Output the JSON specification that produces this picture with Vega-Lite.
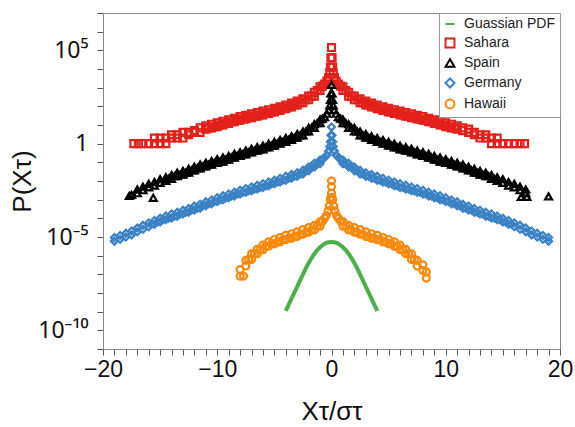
{
"$schema": "https://vega.github.io/schema/vega-lite/v6.json",
"width": 457, "height": 336,
"autosize": {"type": "none"},
"padding": {"left": 103, "top": 13, "right": 15, "bottom": 78},
"background": "white",
"config": {
 "font": "Liberation Sans",
 "view": {"stroke": "#8a8a8a", "strokeWidth": 1},
 "axis": {"domainColor": "#8a8a8a", "ticks": true, "tickColor": "#555", "tickWidth": 1, "tickOpacity": 1, "grid": false, "labelColor": "#111", "titleColor": "#111", "labelFontSize": 23, "titleFontSize": 26, "titleFontWeight": "normal", "tickSize": 6, "labelFont": "Liberation Sans", "titleFont": "Liberation Sans", "labelFlush": false},
 "legend": {"labelFont": "Liberation Sans", "labelFontSize": 14, "labelColor": "#222", "symbolStrokeWidth": 2, "symbolSize": 80, "rowPadding": 3, "padding": 4, "strokeColor": "#999", "fillColor": "white", "labelOffset": 7}
},
"data": {"values": [
{"s":"Guassian PDF","x":-4,"p":1.1e-9},{"s":"Guassian PDF","x":-3.5,"p":5e-9},{"s":"Guassian PDF","x":-3,"p":2.2e-8},{"s":"Guassian PDF","x":-2.5,"p":1e-7},{"s":"Guassian PDF","x":-2,"p":4e-7},{"s":"Guassian PDF","x":-1.5,"p":1.26e-6},{"s":"Guassian PDF","x":-1,"p":2.8e-6},{"s":"Guassian PDF","x":-0.5,"p":4.7e-6},{"s":"Guassian PDF","x":0,"p":5.4e-6},{"s":"Guassian PDF","x":0.5,"p":4.7e-6},{"s":"Guassian PDF","x":1,"p":2.8e-6},{"s":"Guassian PDF","x":1.5,"p":1.26e-6},{"s":"Guassian PDF","x":2,"p":4e-7},{"s":"Guassian PDF","x":2.5,"p":1e-7},{"s":"Guassian PDF","x":3,"p":2.2e-8},{"s":"Guassian PDF","x":3.5,"p":5e-9},{"s":"Guassian PDF","x":4,"p":1.1e-9},

{"s":"Sahara","x":-17.3,"p":1},{"s":"Sahara","x":-16.9,"p":1},{"s":"Sahara","x":-16.5,"p":1},{"s":"Sahara","x":-16,"p":1},{"s":"Sahara","x":-15.5,"p":1},{"s":"Sahara","x":-15.5,"p":2},{"s":"Sahara","x":-15,"p":1},{"s":"Sahara","x":-15,"p":2},{"s":"Sahara","x":-14.5,"p":1},{"s":"Sahara","x":-14.5,"p":2},{"s":"Sahara","x":-14,"p":2},{"s":"Sahara","x":-14,"p":3},{"s":"Sahara","x":-13.5,"p":2},{"s":"Sahara","x":-13.5,"p":3},{"s":"Sahara","x":-13,"p":2},{"s":"Sahara","x":-13,"p":4},{"s":"Sahara","x":-12.5,"p":3},{"s":"Sahara","x":-12.5,"p":4},{"s":"Sahara","x":-12,"p":4},{"s":"Sahara","x":-12,"p":5},{"s":"Sahara","x":-11.5,"p":4},{"s":"Sahara","x":-11.5,"p":7},{"s":"Sahara","x":-11,"p":6},{"s":"Sahara","x":-11,"p":9},{"s":"Sahara","x":-10.5,"p":7},{"s":"Sahara","x":-10.5,"p":11},{"s":"Sahara","x":-10,"p":8},{"s":"Sahara","x":-10,"p":13},{"s":"Sahara","x":-9.5,"p":10},{"s":"Sahara","x":-9.5,"p":16},{"s":"Sahara","x":-9,"p":12},{"s":"Sahara","x":-9,"p":19},{"s":"Sahara","x":-8.5,"p":15},{"s":"Sahara","x":-8.5,"p":23},{"s":"Sahara","x":-8,"p":18},{"s":"Sahara","x":-8,"p":28},{"s":"Sahara","x":-7.5,"p":21},{"s":"Sahara","x":-7.5,"p":33},{"s":"Sahara","x":-7,"p":25},{"s":"Sahara","x":-7,"p":40},{"s":"Sahara","x":-6.5,"p":30},{"s":"Sahara","x":-6.5,"p":47},{"s":"Sahara","x":-6,"p":35},{"s":"Sahara","x":-6,"p":56},{"s":"Sahara","x":-5.5,"p":42},{"s":"Sahara","x":-5.5,"p":66},{"s":"Sahara","x":-5,"p":50},{"s":"Sahara","x":-5,"p":79},{"s":"Sahara","x":-4.5,"p":60},{"s":"Sahara","x":-4.5,"p":95},{"s":"Sahara","x":-4,"p":74},{"s":"Sahara","x":-4,"p":117},{"s":"Sahara","x":-3.5,"p":93},{"s":"Sahara","x":-3.5,"p":148},{"s":"Sahara","x":-3,"p":120},{"s":"Sahara","x":-3,"p":191},{"s":"Sahara","x":-2.5,"p":158},{"s":"Sahara","x":-2.5,"p":251},{"s":"Sahara","x":-2,"p":224},{"s":"Sahara","x":-2,"p":355},{"s":"Sahara","x":-1.5,"p":355},{"s":"Sahara","x":-1.5,"p":560},{"s":"Sahara","x":-1,"p":710},{"s":"Sahara","x":-1,"p":1120},{"s":"Sahara","x":-0.8,"p":1200},{"s":"Sahara","x":-0.6,"p":1580},{"s":"Sahara","x":-0.4,"p":2240},{"s":"Sahara","x":-0.25,"p":3500},{"s":"Sahara","x":-0.15,"p":6300},{"s":"Sahara","x":-0.1,"p":12600},{"s":"Sahara","x":-0.05,"p":40000},{"s":"Sahara","x":0,"p":141000},{"s":"Sahara","x":0.05,"p":40000},{"s":"Sahara","x":0.1,"p":12600},{"s":"Sahara","x":0.15,"p":6300},{"s":"Sahara","x":0.25,"p":3500},{"s":"Sahara","x":0.4,"p":2240},{"s":"Sahara","x":0.6,"p":1580},{"s":"Sahara","x":0.8,"p":1200},{"s":"Sahara","x":1,"p":1120},{"s":"Sahara","x":1,"p":710},{"s":"Sahara","x":1.5,"p":560},{"s":"Sahara","x":1.5,"p":355},{"s":"Sahara","x":2,"p":355},{"s":"Sahara","x":2,"p":224},{"s":"Sahara","x":2.5,"p":251},{"s":"Sahara","x":2.5,"p":158},{"s":"Sahara","x":3,"p":191},{"s":"Sahara","x":3,"p":120},{"s":"Sahara","x":3.5,"p":148},{"s":"Sahara","x":3.5,"p":93},{"s":"Sahara","x":4,"p":117},{"s":"Sahara","x":4,"p":74},{"s":"Sahara","x":4.5,"p":95},{"s":"Sahara","x":4.5,"p":60},{"s":"Sahara","x":5,"p":79},{"s":"Sahara","x":5,"p":50},{"s":"Sahara","x":5.5,"p":66},{"s":"Sahara","x":5.5,"p":42},{"s":"Sahara","x":6,"p":56},{"s":"Sahara","x":6,"p":35},{"s":"Sahara","x":6.5,"p":47},{"s":"Sahara","x":6.5,"p":30},{"s":"Sahara","x":7,"p":40},{"s":"Sahara","x":7,"p":25},{"s":"Sahara","x":7.5,"p":33},{"s":"Sahara","x":7.5,"p":21},{"s":"Sahara","x":8,"p":28},{"s":"Sahara","x":8,"p":18},{"s":"Sahara","x":8.5,"p":23},{"s":"Sahara","x":8.5,"p":15},{"s":"Sahara","x":9,"p":19},{"s":"Sahara","x":9,"p":12},{"s":"Sahara","x":9.5,"p":16},{"s":"Sahara","x":9.5,"p":10},{"s":"Sahara","x":10,"p":13},{"s":"Sahara","x":10,"p":8},{"s":"Sahara","x":10.5,"p":11},{"s":"Sahara","x":10.5,"p":7},{"s":"Sahara","x":11,"p":9},{"s":"Sahara","x":11,"p":6},{"s":"Sahara","x":11.5,"p":7},{"s":"Sahara","x":11.5,"p":5},{"s":"Sahara","x":12,"p":6},{"s":"Sahara","x":12,"p":4},{"s":"Sahara","x":12.5,"p":4},{"s":"Sahara","x":12.5,"p":3},{"s":"Sahara","x":13,"p":3},{"s":"Sahara","x":13,"p":2},{"s":"Sahara","x":13.5,"p":3},{"s":"Sahara","x":13.5,"p":2},{"s":"Sahara","x":14,"p":2},{"s":"Sahara","x":14,"p":1},{"s":"Sahara","x":14.5,"p":2},{"s":"Sahara","x":14.5,"p":1},{"s":"Sahara","x":15,"p":1},{"s":"Sahara","x":15.5,"p":1},{"s":"Sahara","x":16,"p":1},{"s":"Sahara","x":16.5,"p":1},{"s":"Sahara","x":16.9,"p":1},
{"s":"Sahara","x":-1.25,"p":710},{"s":"Sahara","x":-1.75,"p":355},{"s":"Sahara","x":-2.25,"p":224},{"s":"Sahara","x":-2.75,"p":158},{"s":"Sahara","x":-3.25,"p":120},{"s":"Sahara","x":-3.75,"p":93},{"s":"Sahara","x":-4.25,"p":74},{"s":"Sahara","x":-4.75,"p":60},{"s":"Sahara","x":-5.25,"p":50},{"s":"Sahara","x":-5.75,"p":42},{"s":"Sahara","x":-6.25,"p":35},{"s":"Sahara","x":-6.75,"p":30},{"s":"Sahara","x":-7.25,"p":25},{"s":"Sahara","x":-7.75,"p":21},{"s":"Sahara","x":-8.25,"p":18},{"s":"Sahara","x":-8.75,"p":15},{"s":"Sahara","x":-9.25,"p":12},{"s":"Sahara","x":-9.75,"p":10},{"s":"Sahara","x":-10.25,"p":8},{"s":"Sahara","x":-10.75,"p":7},
{"s":"Sahara","x":1.25,"p":710},{"s":"Sahara","x":1.75,"p":355},{"s":"Sahara","x":2.25,"p":224},{"s":"Sahara","x":2.75,"p":158},{"s":"Sahara","x":3.25,"p":120},{"s":"Sahara","x":3.75,"p":93},{"s":"Sahara","x":4.25,"p":74},{"s":"Sahara","x":4.75,"p":60},{"s":"Sahara","x":5.25,"p":50},{"s":"Sahara","x":5.75,"p":42},{"s":"Sahara","x":6.25,"p":35},{"s":"Sahara","x":6.75,"p":30},{"s":"Sahara","x":7.25,"p":25},{"s":"Sahara","x":7.75,"p":21},{"s":"Sahara","x":8.25,"p":18},{"s":"Sahara","x":8.75,"p":15},{"s":"Sahara","x":9.25,"p":12},{"s":"Sahara","x":9.75,"p":10},{"s":"Sahara","x":10.25,"p":8},{"s":"Sahara","x":10.75,"p":7},

{"s":"Spain","x":-17.7,"p":0.0016},{"s":"Spain","x":-17.5,"p":0.0018},{"s":"Spain","x":-17,"p":0.0022},{"s":"Spain","x":-17,"p":0.0035},{"s":"Spain","x":-16.5,"p":0.0032},{"s":"Spain","x":-16.5,"p":0.005},{"s":"Spain","x":-16,"p":0.0045},{"s":"Spain","x":-16,"p":0.0071},{"s":"Spain","x":-15.6,"p":0.00126},{"s":"Spain","x":-15.5,"p":0.0056},{"s":"Spain","x":-15.5,"p":0.0089},{"s":"Spain","x":-15,"p":0.0079},{"s":"Spain","x":-15,"p":0.0126},{"s":"Spain","x":-14.5,"p":0.01},{"s":"Spain","x":-14.5,"p":0.016},{"s":"Spain","x":-14,"p":0.013},{"s":"Spain","x":-14,"p":0.021},{"s":"Spain","x":-13.5,"p":0.018},{"s":"Spain","x":-13.5,"p":0.028},{"s":"Spain","x":-13,"p":0.022},{"s":"Spain","x":-13,"p":0.035},{"s":"Spain","x":-12.5,"p":0.028},{"s":"Spain","x":-12.5,"p":0.045},{"s":"Spain","x":-12,"p":0.037},{"s":"Spain","x":-12,"p":0.059},{"s":"Spain","x":-11.5,"p":0.048},{"s":"Spain","x":-11.5,"p":0.076},{"s":"Spain","x":-11,"p":0.06},{"s":"Spain","x":-11,"p":0.095},{"s":"Spain","x":-10.5,"p":0.074},{"s":"Spain","x":-10.5,"p":0.117},{"s":"Spain","x":-10,"p":0.093},{"s":"Spain","x":-10,"p":0.148},{"s":"Spain","x":-9.5,"p":0.11},{"s":"Spain","x":-9.5,"p":0.18},{"s":"Spain","x":-9,"p":0.14},{"s":"Spain","x":-9,"p":0.22},{"s":"Spain","x":-8.5,"p":0.18},{"s":"Spain","x":-8.5,"p":0.29},{"s":"Spain","x":-8,"p":0.22},{"s":"Spain","x":-8,"p":0.35},{"s":"Spain","x":-7.5,"p":0.27},{"s":"Spain","x":-7.5,"p":0.43},{"s":"Spain","x":-7,"p":0.34},{"s":"Spain","x":-7,"p":0.54},{"s":"Spain","x":-6.5,"p":0.42},{"s":"Spain","x":-6.5,"p":0.66},{"s":"Spain","x":-6,"p":0.5},{"s":"Spain","x":-6,"p":0.79},{"s":"Spain","x":-5.5,"p":0.63},{"s":"Spain","x":-5.5,"p":1.0},{"s":"Spain","x":-5,"p":0.79},{"s":"Spain","x":-5,"p":1.26},{"s":"Spain","x":-4.5,"p":1.0},{"s":"Spain","x":-4.5,"p":1.58},{"s":"Spain","x":-4,"p":1.26},{"s":"Spain","x":-4,"p":2.0},{"s":"Spain","x":-3.5,"p":1.6},{"s":"Spain","x":-3.5,"p":2.5},{"s":"Spain","x":-3,"p":2.1},{"s":"Spain","x":-3,"p":3.3},{"s":"Spain","x":-2.5,"p":2.8},{"s":"Spain","x":-2.5,"p":4.5},{"s":"Spain","x":-2,"p":4.5},{"s":"Spain","x":-2,"p":7.1},{"s":"Spain","x":-1.5,"p":7.1},{"s":"Spain","x":-1.5,"p":11.2},{"s":"Spain","x":-1,"p":12.6},{"s":"Spain","x":-1,"p":20},{"s":"Spain","x":-0.8,"p":22},{"s":"Spain","x":-0.6,"p":26},{"s":"Spain","x":-0.4,"p":40},{"s":"Spain","x":-0.25,"p":63},{"s":"Spain","x":-0.15,"p":112},{"s":"Spain","x":-0.1,"p":224},{"s":"Spain","x":-0.05,"p":500},{"s":"Spain","x":0,"p":1410},{"s":"Spain","x":0.05,"p":500},{"s":"Spain","x":0.1,"p":224},{"s":"Spain","x":0.15,"p":112},{"s":"Spain","x":0.25,"p":63},{"s":"Spain","x":0.4,"p":40},{"s":"Spain","x":0.6,"p":26},{"s":"Spain","x":0.8,"p":22},{"s":"Spain","x":1,"p":20},{"s":"Spain","x":1,"p":12.6},{"s":"Spain","x":1.5,"p":11.2},{"s":"Spain","x":1.5,"p":7.1},{"s":"Spain","x":2,"p":7.1},{"s":"Spain","x":2,"p":4.5},{"s":"Spain","x":2.5,"p":4.5},{"s":"Spain","x":2.5,"p":2.8},{"s":"Spain","x":3,"p":3.3},{"s":"Spain","x":3,"p":2.1},{"s":"Spain","x":3.5,"p":2.5},{"s":"Spain","x":3.5,"p":1.6},{"s":"Spain","x":4,"p":2.0},{"s":"Spain","x":4,"p":1.26},{"s":"Spain","x":4.5,"p":1.58},{"s":"Spain","x":4.5,"p":1.0},{"s":"Spain","x":5,"p":1.26},{"s":"Spain","x":5,"p":0.79},{"s":"Spain","x":5.5,"p":1.0},{"s":"Spain","x":5.5,"p":0.63},{"s":"Spain","x":6,"p":0.79},{"s":"Spain","x":6,"p":0.5},{"s":"Spain","x":6.5,"p":0.66},{"s":"Spain","x":6.5,"p":0.42},{"s":"Spain","x":7,"p":0.54},{"s":"Spain","x":7,"p":0.34},{"s":"Spain","x":7.5,"p":0.43},{"s":"Spain","x":7.5,"p":0.27},{"s":"Spain","x":8,"p":0.35},{"s":"Spain","x":8,"p":0.22},{"s":"Spain","x":8.5,"p":0.29},{"s":"Spain","x":8.5,"p":0.18},{"s":"Spain","x":9,"p":0.22},{"s":"Spain","x":9,"p":0.14},{"s":"Spain","x":9.5,"p":0.18},{"s":"Spain","x":9.5,"p":0.11},{"s":"Spain","x":10,"p":0.148},{"s":"Spain","x":10,"p":0.093},{"s":"Spain","x":10.5,"p":0.117},{"s":"Spain","x":10.5,"p":0.074},{"s":"Spain","x":11,"p":0.095},{"s":"Spain","x":11,"p":0.06},{"s":"Spain","x":11.5,"p":0.076},{"s":"Spain","x":11.5,"p":0.048},{"s":"Spain","x":12,"p":0.059},{"s":"Spain","x":12,"p":0.037},{"s":"Spain","x":12.5,"p":0.045},{"s":"Spain","x":12.5,"p":0.028},{"s":"Spain","x":13,"p":0.035},{"s":"Spain","x":13,"p":0.022},{"s":"Spain","x":13.5,"p":0.028},{"s":"Spain","x":13.5,"p":0.018},{"s":"Spain","x":14,"p":0.021},{"s":"Spain","x":14,"p":0.013},{"s":"Spain","x":14.5,"p":0.016},{"s":"Spain","x":14.5,"p":0.01},{"s":"Spain","x":15,"p":0.0126},{"s":"Spain","x":15,"p":0.0079},{"s":"Spain","x":15.5,"p":0.0089},{"s":"Spain","x":15.5,"p":0.0056},{"s":"Spain","x":16,"p":0.0071},{"s":"Spain","x":16,"p":0.0045},{"s":"Spain","x":16.5,"p":0.005},{"s":"Spain","x":16.5,"p":0.0032},{"s":"Spain","x":16.6,"p":0.0014},{"s":"Spain","x":17,"p":0.0035},{"s":"Spain","x":17,"p":0.0022},{"s":"Spain","x":17.1,"p":0.0014},{"s":"Spain","x":19,"p":0.0015},
{"s":"Spain","x":-1.25,"p":12.6},{"s":"Spain","x":-1.75,"p":7.1},{"s":"Spain","x":-2.25,"p":4.5},{"s":"Spain","x":-2.75,"p":2.8},{"s":"Spain","x":-3.25,"p":2.1},{"s":"Spain","x":-3.75,"p":1.6},{"s":"Spain","x":-4.25,"p":1.26},{"s":"Spain","x":-4.75,"p":1.0},{"s":"Spain","x":-5.25,"p":0.79},{"s":"Spain","x":-5.75,"p":0.63},{"s":"Spain","x":-6.25,"p":0.5},{"s":"Spain","x":-6.75,"p":0.42},{"s":"Spain","x":-7.25,"p":0.34},{"s":"Spain","x":-7.75,"p":0.27},{"s":"Spain","x":-8.25,"p":0.22},{"s":"Spain","x":-8.75,"p":0.18},{"s":"Spain","x":-9.25,"p":0.14},{"s":"Spain","x":-9.75,"p":0.11},{"s":"Spain","x":-10.25,"p":0.093},{"s":"Spain","x":-10.75,"p":0.074},{"s":"Spain","x":-11.25,"p":0.06},{"s":"Spain","x":-11.75,"p":0.048},{"s":"Spain","x":-12.25,"p":0.037},{"s":"Spain","x":-12.75,"p":0.028},{"s":"Spain","x":-13.25,"p":0.022},{"s":"Spain","x":-13.75,"p":0.018},{"s":"Spain","x":-14.25,"p":0.013},
{"s":"Spain","x":1.25,"p":12.6},{"s":"Spain","x":1.75,"p":7.1},{"s":"Spain","x":2.25,"p":4.5},{"s":"Spain","x":2.75,"p":2.8},{"s":"Spain","x":3.25,"p":2.1},{"s":"Spain","x":3.75,"p":1.6},{"s":"Spain","x":4.25,"p":1.26},{"s":"Spain","x":4.75,"p":1.0},{"s":"Spain","x":5.25,"p":0.79},{"s":"Spain","x":5.75,"p":0.63},{"s":"Spain","x":6.25,"p":0.5},{"s":"Spain","x":6.75,"p":0.42},{"s":"Spain","x":7.25,"p":0.34},{"s":"Spain","x":7.75,"p":0.27},{"s":"Spain","x":8.25,"p":0.22},{"s":"Spain","x":8.75,"p":0.18},{"s":"Spain","x":9.25,"p":0.14},{"s":"Spain","x":9.75,"p":0.11},{"s":"Spain","x":10.25,"p":0.093},{"s":"Spain","x":10.75,"p":0.074},{"s":"Spain","x":11.25,"p":0.06},{"s":"Spain","x":11.75,"p":0.048},{"s":"Spain","x":12.25,"p":0.037},{"s":"Spain","x":12.75,"p":0.028},{"s":"Spain","x":13.25,"p":0.022},{"s":"Spain","x":13.75,"p":0.018},{"s":"Spain","x":14.25,"p":0.013},

{"s":"Germany","x":-19,"p":6e-6},{"s":"Germany","x":-19,"p":9.5e-6},{"s":"Germany","x":-18.5,"p":7.6e-6},{"s":"Germany","x":-18.5,"p":1.2e-5},{"s":"Germany","x":-18,"p":1e-5},{"s":"Germany","x":-18,"p":1.6e-5},{"s":"Germany","x":-17.5,"p":1.3e-5},{"s":"Germany","x":-17.5,"p":2.1e-5},{"s":"Germany","x":-17,"p":1.9e-5},{"s":"Germany","x":-17,"p":3e-5},{"s":"Germany","x":-16.5,"p":2.6e-5},{"s":"Germany","x":-16.5,"p":4.2e-5},{"s":"Germany","x":-16,"p":3.5e-5},{"s":"Germany","x":-16,"p":5.6e-5},{"s":"Germany","x":-15.5,"p":4.8e-5},{"s":"Germany","x":-15.5,"p":7.6e-5},{"s":"Germany","x":-15,"p":6.3e-5},{"s":"Germany","x":-15,"p":1e-4},{"s":"Germany","x":-14.5,"p":8.3e-5},{"s":"Germany","x":-14.5,"p":1.32e-4},{"s":"Germany","x":-14,"p":1.05e-4},{"s":"Germany","x":-14,"p":1.7e-4},{"s":"Germany","x":-13.5,"p":1.3e-4},{"s":"Germany","x":-13.5,"p":2.1e-4},{"s":"Germany","x":-13,"p":1.7e-4},{"s":"Germany","x":-13,"p":2.7e-4},{"s":"Germany","x":-12.5,"p":2.1e-4},{"s":"Germany","x":-12.5,"p":3.4e-4},{"s":"Germany","x":-12,"p":2.8e-4},{"s":"Germany","x":-12,"p":4.5e-4},{"s":"Germany","x":-11.5,"p":3.5e-4},{"s":"Germany","x":-11.5,"p":5.6e-4},{"s":"Germany","x":-11,"p":4.8e-4},{"s":"Germany","x":-11,"p":7.6e-4},{"s":"Germany","x":-10.5,"p":6e-4},{"s":"Germany","x":-10.5,"p":9.5e-4},{"s":"Germany","x":-10,"p":7.9e-4},{"s":"Germany","x":-10,"p":1.26e-3},{"s":"Germany","x":-9.5,"p":1e-3},{"s":"Germany","x":-9.5,"p":1.6e-3},{"s":"Germany","x":-9,"p":1.26e-3},{"s":"Germany","x":-9,"p":2e-3},{"s":"Germany","x":-8.5,"p":1.6e-3},{"s":"Germany","x":-8.5,"p":2.5e-3},{"s":"Germany","x":-8,"p":2e-3},{"s":"Germany","x":-8,"p":3.2e-3},{"s":"Germany","x":-7.5,"p":2.5e-3},{"s":"Germany","x":-7.5,"p":4e-3},{"s":"Germany","x":-7,"p":3e-3},{"s":"Germany","x":-7,"p":4.8e-3},{"s":"Germany","x":-6.5,"p":3.7e-3},{"s":"Germany","x":-6.5,"p":5.9e-3},{"s":"Germany","x":-6,"p":4.5e-3},{"s":"Germany","x":-6,"p":7.1e-3},{"s":"Germany","x":-5.5,"p":5.6e-3},{"s":"Germany","x":-5.5,"p":8.9e-3},{"s":"Germany","x":-5,"p":7.1e-3},{"s":"Germany","x":-5,"p":0.011},{"s":"Germany","x":-4.5,"p":8.9e-3},{"s":"Germany","x":-4.5,"p":0.014},{"s":"Germany","x":-4,"p":0.011},{"s":"Germany","x":-4,"p":0.018},{"s":"Germany","x":-3.5,"p":0.014},{"s":"Germany","x":-3.5,"p":0.022},{"s":"Germany","x":-3,"p":0.018},{"s":"Germany","x":-3,"p":0.028},{"s":"Germany","x":-2.5,"p":0.024},{"s":"Germany","x":-2.5,"p":0.038},{"s":"Germany","x":-2,"p":0.035},{"s":"Germany","x":-2,"p":0.056},{"s":"Germany","x":-1.5,"p":0.056},{"s":"Germany","x":-1.5,"p":0.089},{"s":"Germany","x":-1,"p":0.083},{"s":"Germany","x":-1,"p":0.132},{"s":"Germany","x":-0.8,"p":0.14},{"s":"Germany","x":-0.6,"p":0.18},{"s":"Germany","x":-0.4,"p":0.25},{"s":"Germany","x":-0.25,"p":0.4},{"s":"Germany","x":-0.15,"p":0.71},{"s":"Germany","x":-0.1,"p":1.26},{"s":"Germany","x":-0.05,"p":2.8},{"s":"Germany","x":0,"p":7.9},{"s":"Germany","x":0.05,"p":2.8},{"s":"Germany","x":0.1,"p":1.26},{"s":"Germany","x":0.15,"p":0.71},{"s":"Germany","x":0.25,"p":0.4},{"s":"Germany","x":0.4,"p":0.25},{"s":"Germany","x":0.6,"p":0.18},{"s":"Germany","x":0.8,"p":0.14},{"s":"Germany","x":1,"p":0.132},{"s":"Germany","x":1,"p":0.083},{"s":"Germany","x":1.5,"p":0.089},{"s":"Germany","x":1.5,"p":0.056},{"s":"Germany","x":2,"p":0.056},{"s":"Germany","x":2,"p":0.035},{"s":"Germany","x":2.5,"p":0.038},{"s":"Germany","x":2.5,"p":0.024},{"s":"Germany","x":3,"p":0.028},{"s":"Germany","x":3,"p":0.018},{"s":"Germany","x":3.5,"p":0.022},{"s":"Germany","x":3.5,"p":0.014},{"s":"Germany","x":4,"p":0.018},{"s":"Germany","x":4,"p":0.011},{"s":"Germany","x":4.5,"p":0.014},{"s":"Germany","x":4.5,"p":8.9e-3},{"s":"Germany","x":5,"p":0.011},{"s":"Germany","x":5,"p":7.1e-3},{"s":"Germany","x":5.5,"p":8.9e-3},{"s":"Germany","x":5.5,"p":5.6e-3},{"s":"Germany","x":6,"p":7.1e-3},{"s":"Germany","x":6,"p":4.5e-3},{"s":"Germany","x":6.5,"p":5.9e-3},{"s":"Germany","x":6.5,"p":3.7e-3},{"s":"Germany","x":7,"p":4.8e-3},{"s":"Germany","x":7,"p":3e-3},{"s":"Germany","x":7.5,"p":4e-3},{"s":"Germany","x":7.5,"p":2.5e-3},{"s":"Germany","x":8,"p":3.2e-3},{"s":"Germany","x":8,"p":2e-3},{"s":"Germany","x":8.5,"p":2.5e-3},{"s":"Germany","x":8.5,"p":1.6e-3},{"s":"Germany","x":9,"p":2e-3},{"s":"Germany","x":9,"p":1.26e-3},{"s":"Germany","x":9.5,"p":1.6e-3},{"s":"Germany","x":9.5,"p":1e-3},{"s":"Germany","x":10,"p":1.26e-3},{"s":"Germany","x":10,"p":7.9e-4},{"s":"Germany","x":10.5,"p":9.5e-4},{"s":"Germany","x":10.5,"p":6e-4},{"s":"Germany","x":11,"p":7.6e-4},{"s":"Germany","x":11,"p":4.8e-4},{"s":"Germany","x":11.5,"p":5.6e-4},{"s":"Germany","x":11.5,"p":3.5e-4},{"s":"Germany","x":12,"p":4.5e-4},{"s":"Germany","x":12,"p":2.8e-4},{"s":"Germany","x":12.5,"p":3.4e-4},{"s":"Germany","x":12.5,"p":2.1e-4},{"s":"Germany","x":13,"p":2.7e-4},{"s":"Germany","x":13,"p":1.7e-4},{"s":"Germany","x":13.5,"p":2.1e-4},{"s":"Germany","x":13.5,"p":1.3e-4},{"s":"Germany","x":14,"p":1.7e-4},{"s":"Germany","x":14,"p":1.05e-4},{"s":"Germany","x":14.5,"p":1.32e-4},{"s":"Germany","x":14.5,"p":8.3e-5},{"s":"Germany","x":15,"p":1e-4},{"s":"Germany","x":15,"p":6.3e-5},{"s":"Germany","x":15.5,"p":7.6e-5},{"s":"Germany","x":15.5,"p":4.8e-5},{"s":"Germany","x":16,"p":5.6e-5},{"s":"Germany","x":16,"p":3.5e-5},{"s":"Germany","x":16.5,"p":4.2e-5},{"s":"Germany","x":16.5,"p":2.6e-5},{"s":"Germany","x":17,"p":3e-5},{"s":"Germany","x":17,"p":1.9e-5},{"s":"Germany","x":17.5,"p":2.1e-5},{"s":"Germany","x":17.5,"p":1.3e-5},{"s":"Germany","x":18,"p":1.6e-5},{"s":"Germany","x":18,"p":1e-5},{"s":"Germany","x":18.5,"p":1.2e-5},{"s":"Germany","x":18.5,"p":7.6e-6},{"s":"Germany","x":19,"p":9.5e-6},{"s":"Germany","x":19,"p":6e-6},
{"s":"Germany","x":-1.25,"p":0.083},{"s":"Germany","x":-1.75,"p":0.056},{"s":"Germany","x":-2.25,"p":0.035},{"s":"Germany","x":-2.75,"p":0.024},{"s":"Germany","x":-3.25,"p":0.018},{"s":"Germany","x":-3.75,"p":0.014},{"s":"Germany","x":-4.25,"p":0.011},{"s":"Germany","x":-4.75,"p":8.9e-3},{"s":"Germany","x":-5.25,"p":7.1e-3},{"s":"Germany","x":-5.75,"p":5.6e-3},{"s":"Germany","x":-6.25,"p":4.5e-3},{"s":"Germany","x":-6.75,"p":3.7e-3},{"s":"Germany","x":-7.25,"p":3e-3},{"s":"Germany","x":-7.75,"p":2.5e-3},{"s":"Germany","x":-8.25,"p":2e-3},{"s":"Germany","x":-8.75,"p":1.6e-3},{"s":"Germany","x":-9.25,"p":1.26e-3},{"s":"Germany","x":-9.75,"p":1e-3},{"s":"Germany","x":-10.25,"p":7.9e-4},{"s":"Germany","x":-10.75,"p":6e-4},{"s":"Germany","x":-11.25,"p":4.8e-4},{"s":"Germany","x":-11.75,"p":3.5e-4},{"s":"Germany","x":-12.25,"p":2.8e-4},{"s":"Germany","x":-12.75,"p":2.1e-4},{"s":"Germany","x":-13.25,"p":1.7e-4},{"s":"Germany","x":-13.75,"p":1.3e-4},{"s":"Germany","x":-14.25,"p":1.05e-4},{"s":"Germany","x":-14.75,"p":8.3e-5},{"s":"Germany","x":-15.25,"p":6.3e-5},{"s":"Germany","x":-15.75,"p":4.8e-5},
{"s":"Germany","x":1.25,"p":0.083},{"s":"Germany","x":1.75,"p":0.056},{"s":"Germany","x":2.25,"p":0.035},{"s":"Germany","x":2.75,"p":0.024},{"s":"Germany","x":3.25,"p":0.018},{"s":"Germany","x":3.75,"p":0.014},{"s":"Germany","x":4.25,"p":0.011},{"s":"Germany","x":4.75,"p":8.9e-3},{"s":"Germany","x":5.25,"p":7.1e-3},{"s":"Germany","x":5.75,"p":5.6e-3},{"s":"Germany","x":6.25,"p":4.5e-3},{"s":"Germany","x":6.75,"p":3.7e-3},{"s":"Germany","x":7.25,"p":3e-3},{"s":"Germany","x":7.75,"p":2.5e-3},{"s":"Germany","x":8.25,"p":2e-3},{"s":"Germany","x":8.75,"p":1.6e-3},{"s":"Germany","x":9.25,"p":1.26e-3},{"s":"Germany","x":9.75,"p":1e-3},{"s":"Germany","x":10.25,"p":7.9e-4},{"s":"Germany","x":10.75,"p":6e-4},{"s":"Germany","x":11.25,"p":4.8e-4},{"s":"Germany","x":11.75,"p":3.5e-4},{"s":"Germany","x":12.25,"p":2.8e-4},{"s":"Germany","x":12.75,"p":2.1e-4},{"s":"Germany","x":13.25,"p":1.7e-4},{"s":"Germany","x":13.75,"p":1.3e-4},{"s":"Germany","x":14.25,"p":1.05e-4},{"s":"Germany","x":14.75,"p":8.3e-5},{"s":"Germany","x":15.25,"p":6.3e-5},{"s":"Germany","x":15.75,"p":4.8e-5},

{"s":"Hawaii","x":-8,"p":7.9e-8},{"s":"Hawaii","x":-8,"p":1.8e-7},{"s":"Hawaii","x":-7.7,"p":8e-8},{"s":"Hawaii","x":-7.5,"p":2.8e-7},{"s":"Hawaii","x":-7.5,"p":5.6e-7},{"s":"Hawaii","x":-7,"p":6.3e-7},{"s":"Hawaii","x":-7,"p":1.26e-6},{"s":"Hawaii","x":-6.5,"p":1.26e-6},{"s":"Hawaii","x":-6.5,"p":2.2e-6},{"s":"Hawaii","x":-6,"p":2.1e-6},{"s":"Hawaii","x":-6,"p":3.7e-6},{"s":"Hawaii","x":-5.5,"p":3.2e-6},{"s":"Hawaii","x":-5.5,"p":5.5e-6},{"s":"Hawaii","x":-5,"p":4.3e-6},{"s":"Hawaii","x":-5,"p":7.4e-6},{"s":"Hawaii","x":-4.5,"p":5.4e-6},{"s":"Hawaii","x":-4.5,"p":9.3e-6},{"s":"Hawaii","x":-4,"p":7.1e-6},{"s":"Hawaii","x":-4,"p":1.23e-5},{"s":"Hawaii","x":-3.5,"p":8.5e-6},{"s":"Hawaii","x":-3.5,"p":1.5e-5},{"s":"Hawaii","x":-3,"p":1.07e-5},{"s":"Hawaii","x":-3,"p":1.9e-5},{"s":"Hawaii","x":-2.5,"p":1.4e-5},{"s":"Hawaii","x":-2.5,"p":2.5e-5},{"s":"Hawaii","x":-2,"p":1.8e-5},{"s":"Hawaii","x":-2,"p":3.2e-5},{"s":"Hawaii","x":-1.5,"p":2.4e-5},{"s":"Hawaii","x":-1.5,"p":4.2e-5},{"s":"Hawaii","x":-1,"p":3.8e-5},{"s":"Hawaii","x":-1,"p":6.6e-5},{"s":"Hawaii","x":-0.8,"p":7e-5},{"s":"Hawaii","x":-0.6,"p":1e-4},{"s":"Hawaii","x":-0.45,"p":1.4e-4},{"s":"Hawaii","x":-0.3,"p":2.5e-4},{"s":"Hawaii","x":-0.2,"p":4.5e-4},{"s":"Hawaii","x":-0.1,"p":1e-3},{"s":"Hawaii","x":-0.05,"p":1.3e-3},{"s":"Hawaii","x":0,"p":2.2e-3},{"s":"Hawaii","x":0,"p":5e-3},{"s":"Hawaii","x":0,"p":0.01},{"s":"Hawaii","x":0.05,"p":1.3e-3},{"s":"Hawaii","x":0.1,"p":1e-3},{"s":"Hawaii","x":0.2,"p":4.5e-4},{"s":"Hawaii","x":0.3,"p":2.5e-4},{"s":"Hawaii","x":0.45,"p":1.4e-4},{"s":"Hawaii","x":0.6,"p":1e-4},{"s":"Hawaii","x":0.8,"p":7e-5},{"s":"Hawaii","x":1,"p":6.6e-5},{"s":"Hawaii","x":1,"p":3.8e-5},{"s":"Hawaii","x":1.5,"p":4.2e-5},{"s":"Hawaii","x":1.5,"p":2.4e-5},{"s":"Hawaii","x":2,"p":3.2e-5},{"s":"Hawaii","x":2,"p":1.8e-5},{"s":"Hawaii","x":2.5,"p":2.5e-5},{"s":"Hawaii","x":2.5,"p":1.4e-5},{"s":"Hawaii","x":3,"p":1.9e-5},{"s":"Hawaii","x":3,"p":1.07e-5},{"s":"Hawaii","x":3.5,"p":1.5e-5},{"s":"Hawaii","x":3.5,"p":8.5e-6},{"s":"Hawaii","x":4,"p":1.23e-5},{"s":"Hawaii","x":4,"p":7.1e-6},{"s":"Hawaii","x":4.5,"p":9.3e-6},{"s":"Hawaii","x":4.5,"p":5.4e-6},{"s":"Hawaii","x":5,"p":7.4e-6},{"s":"Hawaii","x":5,"p":4.3e-6},{"s":"Hawaii","x":5.5,"p":5.5e-6},{"s":"Hawaii","x":5.5,"p":3.2e-6},{"s":"Hawaii","x":6,"p":3.7e-6},{"s":"Hawaii","x":6,"p":2.1e-6},{"s":"Hawaii","x":6.5,"p":2.2e-6},{"s":"Hawaii","x":6.5,"p":1.26e-6},{"s":"Hawaii","x":7,"p":1.26e-6},{"s":"Hawaii","x":7,"p":6.3e-7},{"s":"Hawaii","x":7.5,"p":5.6e-7},{"s":"Hawaii","x":7.5,"p":2.8e-7},{"s":"Hawaii","x":8,"p":3.2e-7},{"s":"Hawaii","x":8,"p":1.6e-7},{"s":"Hawaii","x":8.3,"p":1.35e-7},{"s":"Hawaii","x":8.3,"p":6.3e-8},
{"s":"Hawaii","x":-1.25,"p":3.8e-5},{"s":"Hawaii","x":-1.75,"p":2.4e-5},{"s":"Hawaii","x":-2.25,"p":1.8e-5},{"s":"Hawaii","x":-2.75,"p":1.4e-5},{"s":"Hawaii","x":-3.25,"p":1.07e-5},{"s":"Hawaii","x":-3.75,"p":8.5e-6},{"s":"Hawaii","x":-4.25,"p":7.1e-6},{"s":"Hawaii","x":-4.75,"p":5.4e-6},{"s":"Hawaii","x":-5.25,"p":4.3e-6},{"s":"Hawaii","x":-5.75,"p":3.2e-6},{"s":"Hawaii","x":-6.25,"p":2.1e-6},{"s":"Hawaii","x":-6.75,"p":1.26e-6},{"s":"Hawaii","x":-7.25,"p":6.3e-7},
{"s":"Hawaii","x":1.25,"p":3.8e-5},{"s":"Hawaii","x":1.75,"p":2.4e-5},{"s":"Hawaii","x":2.25,"p":1.8e-5},{"s":"Hawaii","x":2.75,"p":1.4e-5},{"s":"Hawaii","x":3.25,"p":1.07e-5},{"s":"Hawaii","x":3.75,"p":8.5e-6},{"s":"Hawaii","x":4.25,"p":7.1e-6},{"s":"Hawaii","x":4.75,"p":5.4e-6},{"s":"Hawaii","x":5.25,"p":4.3e-6},{"s":"Hawaii","x":5.75,"p":3.2e-6},{"s":"Hawaii","x":6.25,"p":2.1e-6},{"s":"Hawaii","x":6.75,"p":1.26e-6},{"s":"Hawaii","x":7.25,"p":6.3e-7}
]},
"encoding": {
 "x": {"field": "x", "type": "quantitative", "scale": {"domain": [-20, 20], "nice": false},
  "axis": {"values": [-20,-19,-18,-17,-16,-15,-14,-13,-12,-11,-10,-9,-8,-7,-6,-5,-4,-3,-2,-1,0,1,2,3,4,5,6,7,8,9,10,11,12,13,14,15,16,17,18,19,20],
   "labelExpr": "datum.value % 10 == 0 ? datum.label : ''", "labelOverlap": false, "labelPadding": 3, "title": "Xτ/στ", "titlePadding": 17}},
 "y": {"field": "p", "type": "quantitative", "scale": {"type": "log", "domain": [1e-11, 1e7], "nice": false},
  "axis": {"values": [1e-11,1e-10,1e-9,1e-8,1e-7,1e-6,1e-5,1e-4,1e-3,1e-2,1e-1,1,10,100,1000,10000,100000,1000000,10000000],
   "labelExpr": "round(log(datum.value)/LN10) == 5 ? '10⁵' : round(log(datum.value)/LN10) == 0 ? '1' : round(log(datum.value)/LN10) == -5 ? '10⁻⁵' : round(log(datum.value)/LN10) == -10 ? '10⁻¹⁰' : ''",
   "labelFont": "Noto Sans", "labelFontSize": 23,
   "labelOverlap": false, "labelPadding": 9, "title": "P(Xτ)", "titleX": -81, "titleY": 168, "titleAngle": -90, "titleAlign": "center", "titleBaseline": "middle"}},
 "color": {"field": "s", "type": "nominal",
  "scale": {"domain": ["Guassian PDF","Sahara","Spain","Germany","Hawaii"], "range": ["#4daf4a","#e3201b","#000000","#3b82c4","#f7890c"]},
  "legend": {"title": null, "orient": "top-right", "offset": 0}}
},
"layer": [
 {"transform": [{"filter": "datum.s == 'Guassian PDF'"}],
  "mark": {"type": "line", "strokeWidth": 4, "interpolate": "monotone"}},
 {"transform": [{"filter": "datum.s != 'Guassian PDF'"}],
  "mark": {"type": "point", "filled": false, "strokeWidth": 2.2, "size": 48, "opacity": 1},
  "encoding": {"shape": {"field": "s", "type": "nominal",
   "scale": {"domain": ["Guassian PDF","Sahara","Spain","Germany","Hawaii"], "range": ["stroke","square","triangle-up","diamond","circle"]},
   "legend": {"title": null, "orient": "top-right", "offset": 0}}}}
]
}
